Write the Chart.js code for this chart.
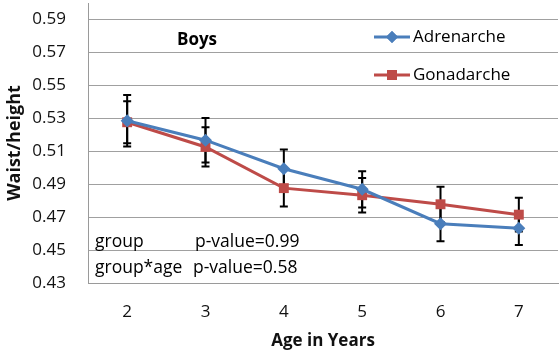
<!DOCTYPE html>
<html lang="en">
<head>
    <meta charset="UTF-8">
    <title>Boys - Waist/height</title>
    <style>
        body {
            margin: 0;
            background: #ffffff;
        }
        #wrap {
            width: 559px;
            height: 355px;
        }
    </style>
</head>
<body>

<div id="wrap">
    <canvas id="boysChart" width="559" height="355"></canvas>
</div>

<script src="https://cdn.jsdelivr.net/npm/chart.js"></script>

<script>
    // data
    const ages = ['2', '3', '4', '5', '6', '7'];
    const adrenarche = [0.5285, 0.5167, 0.4994, 0.4869, 0.4660, 0.4633];
    const gonadarche = [0.5276, 0.5126, 0.4876, 0.4833, 0.4778, 0.4715];
    const adrenarcheErr = [0.0156, 0.0135, 0.0117, 0.0110, 0.0107, 0.0102];
    const gonadarcheErr = [0.0127, 0.0119, 0.0112, 0.0105, 0.0107, 0.0102];
    const yTicks = [0.43, 0.45, 0.47, 0.49, 0.51, 0.53, 0.55, 0.57, 0.59];

    const blue = '#4A7EBB';
    const red = '#BE4B48';
    const fontName = "'Open Sans', sans-serif";

    // vertical error bars, drawn under the markers
    const errorBars = {
        id: 'errorBars',
        beforeDatasetsDraw(chart) {
            const ctx = chart.ctx;
            const x = chart.scales.x;
            const y = chart.scales.y;
            const sets = [[adrenarche, adrenarcheErr], [gonadarche, gonadarcheErr]];
            ctx.save();
            ctx.strokeStyle = '#000';
            ctx.lineWidth = 2;
            sets.forEach(([vals, errs]) => {
                vals.forEach((v, i) => {
                    const px = x.getPixelForValue(i);
                    const top = y.getPixelForValue(v + errs[i]);
                    const bot = y.getPixelForValue(v - errs[i]);
                    ctx.beginPath();
                    ctx.moveTo(px, top);
                    ctx.lineTo(px, bot);
                    ctx.moveTo(px - 4, top);
                    ctx.lineTo(px + 4, top);
                    ctx.moveTo(px - 4, bot);
                    ctx.lineTo(px + 4, bot);
                    ctx.stroke();
                });
            });
            ctx.restore();
        }
    };

    // legend and text notes inside the plot
    const notes = {
        id: 'notes',
        afterDraw(chart) {
            const ctx = chart.ctx;
            ctx.save();
            ctx.textBaseline = 'middle';
            ctx.fillStyle = '#000';

            ctx.font = 'bold 17px ' + fontName;
            ctx.textAlign = 'center';
            ctx.fillText('Boys', 197, 40);

            ctx.font = '17.5px ' + fontName;
            ctx.textAlign = 'left';
            ctx.fillText('group', 95, 242);
            ctx.fillText('p-value=0.99', 195, 242);
            ctx.fillText('group*age', 95, 268);
            ctx.fillText('p-value=0.58', 193, 268);

            ctx.font = '17px ' + fontName;
            const items = [
                { label: 'Adrenarche', color: blue, style: 'rectRot', r: 6, y: 37 },
                { label: 'Gonadarche', color: red, style: 'rect', r: 7, y: 75 }
            ];
            items.forEach(it => {
                ctx.strokeStyle = it.color;
                ctx.lineWidth = 3;
                ctx.beginPath();
                ctx.moveTo(374, it.y);
                ctx.lineTo(410, it.y);
                ctx.stroke();
                ctx.fillStyle = it.color;
                Chart.helpers.drawPoint(ctx, { pointStyle: it.style, radius: it.r, borderWidth: 0 }, 392, it.y);
                ctx.fill();
                ctx.fillStyle = '#000';
                ctx.fillText(it.label, 413, it.y);
            });
            ctx.restore();
        }
    };

    new Chart(document.getElementById('boysChart'), {
        type: 'line',
        data: {
            labels: ages,
            datasets: [
                {
                    label: 'Adrenarche',
                    data: adrenarche,
                    borderColor: blue,
                    backgroundColor: blue,
                    borderWidth: 3,
                    pointStyle: 'rectRot',
                    pointRadius: 6.5,
                    pointBorderWidth: 0,
                    tension: 0
                },
                {
                    label: 'Gonadarche',
                    data: gonadarche,
                    borderColor: red,
                    backgroundColor: red,
                    borderWidth: 3,
                    pointStyle: 'rect',
                    pointRadius: 7,
                    pointBorderWidth: 0,
                    tension: 0
                }
            ]
        },
        options: {
            responsive: false,
            animation: false,
            devicePixelRatio: 1,
            layout: {
                autoPadding: false,
                padding: { top: 3, right: 1, left: 0, bottom: 0 }
            },
            plugins: {
                legend: { display: false },
                tooltip: { enabled: false }
            },
            scales: {
                x: {
                    offset: true,
                    grid: { display: false, drawTicks: false },
                    border: { display: true, color: '#9a9a9a', width: 1 },
                    ticks: {
                        color: '#111',
                        padding: 19,
                        font: { family: fontName, size: 17 }
                    },
                    title: {
                        display: true,
                        text: 'Age in Years',
                        color: '#111',
                        padding: { top: 0, bottom: 4 },
                        font: { family: fontName, size: 17, weight: 'bold' }
                    },
                    afterFit(scale) {
                        scale.height = 72;
                        scale.paddingLeft = 0;
                        scale.paddingRight = 0;
                    }
                },
                y: {
                    min: 0.43,
                    max: 0.60,
                    grid: { color: '#a0a0a0', lineWidth: 1, drawTicks: false },
                    border: { display: true, color: '#9a9a9a', width: 1 },
                    afterBuildTicks(scale) {
                        scale.ticks = yTicks.map(v => ({ value: v }));
                    },
                    ticks: {
                        color: '#111',
                        padding: 22,
                        font: { family: fontName, size: 17 },
                        callback: v => v.toFixed(2)
                    },
                    title: {
                        display: true,
                        text: 'Waist/height',
                        color: '#111',
                        padding: { top: 4, bottom: 0 },
                        font: { family: fontName, size: 18, weight: 'bold' }
                    },
                    afterFit(scale) {
                        scale.width = 88;
                        scale.paddingTop = 0;
                        scale.paddingBottom = 0;
                    }
                }
            }
        },
        plugins: [errorBars, notes]
    });
</script>

</body>
</html>
